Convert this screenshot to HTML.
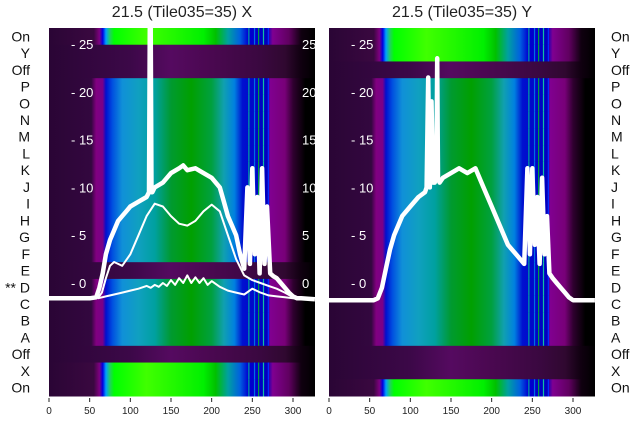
<!DOCTYPE html>
<html><head><meta charset="utf-8">
<style>
html,body{margin:0;padding:0;background:#fff;width:640px;height:440px;overflow:hidden}
svg{display:block;font-family:"Liberation Sans","DejaVu Sans",sans-serif}
</style></head>
<body>
<svg id="chart" width="640" height="440" viewBox="0 0 640 440" xmlns="http://www.w3.org/2000/svg">
<defs>
<linearGradient id="gNormal" x1="0" x2="1" y1="0" y2="0"></linearGradient>
<linearGradient id="gBright" x1="0" x2="1" y1="0" y2="0"></linearGradient>
<linearGradient id="gOff" x1="0" x2="1" y1="0" y2="0"></linearGradient>
<clipPath id="clipL"><rect x="49" y="28" width="266" height="368"/></clipPath>
<clipPath id="clipR"><rect x="329" y="28" width="266" height="368"/></clipPath>
</defs>
<text x="182" y="17" font-size="16" text-anchor="middle" fill="#222">21.5 (Tile035=35) X</text>
<text x="462" y="17" font-size="16" text-anchor="middle" fill="#222">21.5 (Tile035=35) Y</text>
<g id="layer"></g>
</svg>
<script>
// ---- data ----
const rowLabels = ["On","Y","Off","P","O","N","M","L","K","J","I","H","G","F","E","D","C","B","A","Off","X","On"];
const rowTypesX = ["b","o","o","n","n","n","n","n","n","n","n","n","n","n","o","n","n","n","n","o","b","b"];
const rowTypesY = ["b","b","o","n","n","n","n","n","n","n","n","n","n","n","n","n","n","n","n","o","o","b"];
const yTicks = [0,5,10,15,20,25];
const xTicks = [0,50,100,150,200,250,300];

const mainXx = [0,50,58,62,66,70,75,80,85,90,95,100,110,120,123,124,125,126,127,130,140,150,160,165,170,180,190,200,210,215,220,225,230,235,240,244,247,250,253,256,259,262,265,268,272,276,280,285,290,295,300,305,310,327];
const mainXv = [-1.6,-1.6,-1.5,-0.5,1,3,4.5,5.5,6.5,7,7.5,8,8.5,9,9.5,27,27,9.5,9.5,10,10.5,11.5,12,12.3,11.8,12,11.5,11,10,8.5,7,6,5,3,1.5,10,2,12,3,9,1,12,2,8,1,0.7,0.5,0,-0.5,-1,-1.4,-1.6,-1.6,-1.7];
const humpXx = [60,65,70,75,80,85,90,100,110,120,130,140,150,160,170,180,190,200,210,220,230,240,250,260,270,280,290,300,310];
const humpXv = [-1.6,-1,0.5,1.8,2.2,2,1.8,3,5,7,8.3,8,7,6.2,6,6.5,7.5,8.2,7.5,5,2.5,0.8,0.3,0,-0.3,-0.6,-1,-1.5,-1.6];
const lowXx = [60,70,80,90,100,110,120,125,130,135,140,145,150,155,160,165,170,175,180,185,190,195,200,210,220,230,240,250,260,270,280,290,300,310];
const lowXv = [-1.6,-1.4,-1.2,-1,-0.8,-0.6,-0.3,-0.5,-0.2,-0.4,0,-0.3,0.3,-0.2,0.5,0,0.8,0,0.6,0,0.5,-0.2,0.2,-0.4,-0.8,-1,-1.2,-0.6,-1,-1.3,-1.4,-1.5,-1.6,-1.6];
const mainYx = [0,55,60,65,70,75,80,90,100,110,118,120,122,124,126,128,130,132,133,134,136,140,150,160,170,180,190,200,210,220,230,240,244,247,250,253,256,259,262,265,268,271,275,280,285,290,295,300,327];
const mainYv = [-1.8,-1.8,-1.6,-0.5,1.5,3.5,5,7,8,9,9.5,10,21.5,10,19,10.5,10.5,11,23.5,11,10.5,11,11.5,12,11.5,12,10,8,6,4,3,2,12,3,12,4,9,2,11,3,7,1,0.5,0,-0.5,-1,-1.5,-1.8,-1.8];

// ---- colour scales ----
const stopsN = [[0,"#2a0535"],[52,"#33073f"],[58,"#800080"],[66,"#7a0088"],[70,"#0010d0"],[78,"#0050e0"],[90,"#1090d8"],[110,"#10a0c0"],[130,"#00a0a0"],[150,"#009a30"],[175,"#00a000"],[200,"#00a040"],[215,"#10a0b0"],[228,"#0080e0"],[238,"#0010d0"],[268,"#0000c0"],[272,"#800090"],[290,"#780078"],[300,"#300030"],[315,"#000000"],[327,"#000000"]];
const stopsB = [[0,"#2a0535"],[55,"#3a0840"],[62,"#800080"],[66,"#0000e0"],[70,"#00a0ff"],[75,"#20d060"],[80,"#00ff00"],[120,"#40ff00"],[190,"#00f000"],[205,"#00c000"],[220,"#00a0a0"],[235,"#0060e0"],[245,"#0000d0"],[268,"#0000c0"],[275,"#800090"],[295,"#600060"],[310,"#100010"],[327,"#000000"]];
const stopsO = [[0,"#2a0535"],[100,"#3c0848"],[150,"#550a60"],[200,"#4a0850"],[260,"#3a0840"],[290,"#300830"],[310,"#100010"],[327,"#000000"]];

const NS="http://www.w3.org/2000/svg";
function fillGrad(id,stops){const g=document.getElementById(id);stops.forEach(s=>{const st=document.createElementNS(NS,"stop");st.setAttribute("offset",(s[0]/327));st.setAttribute("stop-color",s[1]);g.appendChild(st);});}
fillGrad("gNormal",stopsN);fillGrad("gBright",stopsB);fillGrad("gOff",stopsO);

const layer=document.getElementById("layer");
const top0=28,rowH=368/22;
function mk(tag,attrs,parent){const e=document.createElementNS(NS,tag);for(const k in attrs)e.setAttribute(k,attrs[k]);(parent||layer).appendChild(e);return e;}
function yScale(v){return 283-v*9.56;}

function panel(x0,types,series,side,name){
  const g=mk("g",{});
  
  
  const sx=v=>x0+v*0.8133;
  const fills={n:"url(#gNormal)",b:"url(#gBright)",o:"url(#gOff)"};
  types.forEach((t,i)=>{
    const r=mk("rect",{x:x0,y:top0+i*rowH,width:266,height:rowH+0.5,fill:fills[t]},g);
    
    
    if(t!=="o"){
      [[245,"#00a0a0"],[252,"#0070e0"],[257,"#00a040"],[263,"#10c0a0"],[269,"#0030ff"]].forEach(s=>{
        mk("rect",{x:sx(s[0]),y:top0+i*rowH,width:1.2,height:rowH+0.5,fill:s[1]},g);
      });
    }
  });
  yTicks.forEach(t=>{
    const tx=mk("text",{x:x0+22,y:yScale(t)+5,"font-size":13,fill:"#fff"},g);
    tx.textContent="- "+t;
    
    
  });
  if(side==="left"){
    const cg=mk("g",{"clip-path":"url(#clipL)"},g);
    yTicks.forEach(t=>{
      const tx=mk("text",{x:302,y:yScale(t)+5,"font-size":13,fill:"#fff"},cg);
      tx.textContent=String(t);
      
      
    });
  }
  const lg=mk("g",{"clip-path":side==="left"?"url(#clipL)":"url(#clipR)"},g);
  series.forEach(s=>{
    let d="";s.x.forEach((xv,i)=>{d+=(i?"L":"M")+sx(xv).toFixed(1)+","+yScale(s.v[i]).toFixed(1);});
    const p=mk("path",{d:d,fill:"none",stroke:"#fff","stroke-width":s.w,"stroke-linejoin":"round"},lg);
    
    
  });
  xTicks.forEach(t=>{
    mk("line",{x1:sx(t),x2:sx(t),y1:398,y2:402,stroke:"#222","stroke-width":1},g);
    const tx=mk("text",{x:sx(t),y:414,"font-size":10,"text-anchor":"middle",fill:"#222"},g);
    tx.textContent=String(t);
    
    
  });
}
panel(49,rowTypesX,[
  {x:humpXx,v:humpXv,w:2,name:"hump-line-x"},
  {x:lowXx,v:lowXv,w:2,name:"low-line-x"},
  {x:mainXx,v:mainXv,w:4.5,name:"main-line-x"}
],"left","left");
panel(329,rowTypesY,[
  {x:mainYx,v:mainYv,w:4.5,name:"main-line-y"}
],"right","right");

rowLabels.forEach((l,i)=>{
  const y=top0+i*rowH+rowH/2+5;
  const a=mk("text",{x:30,y:y,"font-size":14,"text-anchor":"end",fill:"#111"});
  a.textContent=(i===15?"** ":"")+l;
  
  
  const b=mk("text",{x:611,y:y,"font-size":14,fill:"#111"});
  b.textContent=l;
  
  
});
</script>
</body></html>
